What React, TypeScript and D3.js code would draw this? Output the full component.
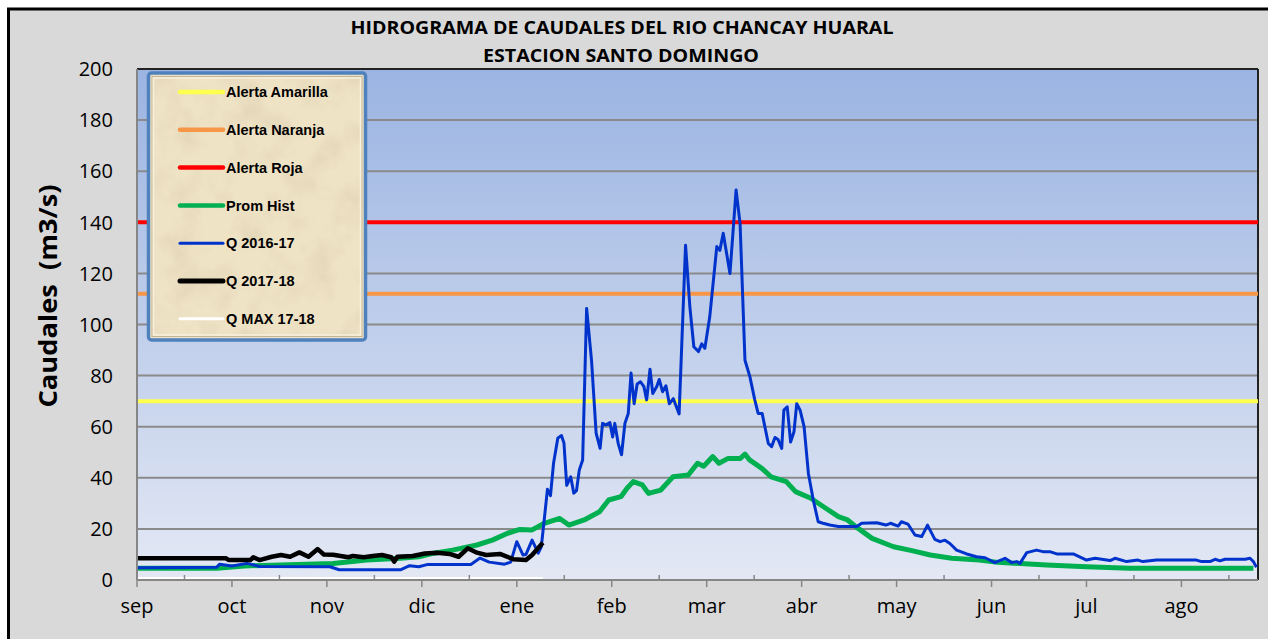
import React from 'react';
import * as d3 from 'd3';

// month labels on the category axis (one tick every 31 days)
const months = ['sep', 'oct', 'nov', 'dic', 'ene', 'feb', 'mar', 'abr', 'may', 'jun', 'jul', 'ago'];
const yTicks = [0, 20, 40, 60, 80, 100, 120, 140, 160, 180, 200];

// alert thresholds (m3/s)
const alertaAmarilla = 70;
const alertaNaranja = 112;
const alertaRoja = 140;

// [day since 1 sep, caudal]
const promHist: [number, number][] = [
  [0, 4.6], [26, 4.6], [35, 5.5], [64, 6.5], [75, 7.8], [86, 8.5], [92, 9.1], [97, 10.5],
  [103, 11.7], [111, 13.7], [116, 15.6], [121, 18.3], [125, 19.8], [129, 19.6], [133, 22.2],
  [138, 24.1], [141, 21.5], [146, 23.5], [151, 26.7], [154, 31.3], [158, 32.6], [160, 35.9],
  [162, 38.5], [165, 37.2], [167, 33.9], [171, 35.2], [175, 40.4], [180, 41.1], [183, 45.7],
  [185, 44.5], [188, 48.3], [190, 45.7], [193, 47.6], [197, 47.6], [198.5, 49.3], [200, 47],
  [204, 43.7], [207, 40.4], [212, 38.5], [215, 34.6], [220, 32], [225, 28], [229, 24.8],
  [232, 23.5], [235, 20.6], [240, 16.3], [247, 13], [253, 11.5], [259, 9.8], [266, 8.5],
  [275, 7.8], [281, 6.9], [297, 5.9], [310, 5.2], [324, 4.6], [364.5, 4.6],
];

const q1617: [number, number][] = [
  [0, 4.8], [26, 5], [27, 6.2], [31, 5.5], [36, 6.5], [40, 5.3], [63, 5.2], [66, 4], [86, 4],
  [89, 5.6], [92, 5.2], [95, 6.1], [109, 6.1], [112, 8.6], [115, 7], [120, 6.2], [122, 7],
  [124, 15], [126, 9.8], [127, 10], [129, 15.6], [131, 10.5], [132, 13], [133, 24], [134, 35.5],
  [135, 33], [136, 45.7], [137.4, 55.6], [138.6, 56.5], [139.4, 53.6], [140.3, 37], [141.6, 40.4],
  [142.6, 34], [143.5, 35], [144.4, 43], [145.5, 47], [146.8, 106.3], [148.4, 86], [149.9, 57.5],
  [151.2, 51.5], [152, 61.3], [153.1, 60.7], [154.4, 61.6], [155.3, 56], [156, 61.3],
  [157.1, 53.5], [158.2, 49], [159.3, 61.3], [160.4, 65.2], [161.3, 81], [162.3, 69],
  [163.3, 76.7], [164.4, 77.6], [165.5, 75.7], [166.4, 70.5], [167.5, 82.5], [168.4, 73],
  [169.7, 75.7], [170.5, 78.5], [171.6, 73.7], [172.7, 76], [173.8, 69], [175.1, 71], [177, 65],
  [179.1, 131], [180.5, 107], [181.8, 91.3], [183.3, 89.4], [184.4, 92.4], [185.4, 90.7],
  [187, 103], [189.3, 130.5], [190.3, 129], [191.4, 135.7], [193.6, 120], [195.6, 152.6],
  [196.9, 139.6], [198.5, 86], [200.1, 79.6], [201.7, 70.5], [202.8, 65.2], [204.1, 65.2],
  [206.1, 53.5], [207.2, 52.2], [208.3, 55.8], [209.3, 55], [210.5, 51.5], [211.2, 66.5],
  [212.3, 67.8], [213.4, 54], [214.5, 58], [215.4, 69], [216.5, 66.5], [217.8, 60],
  [219.2, 41.8], [220.8, 31.3], [222.4, 22.8], [224, 22.2], [226.2, 21.5], [229, 20.9],
  [235, 20.9], [236.6, 22.2], [241.5, 22.4], [244.5, 21.5], [246, 22.2], [248.5, 21.1],
  [249.6, 22.8], [251.7, 21.9], [254, 17.6], [256.2, 17], [258.1, 21.5], [260.5, 15.9],
  [262.2, 15], [263.8, 15.6], [265.4, 14.3], [267.6, 11.7], [270.9, 10.2], [274.1, 9.1],
  [276.9, 8.7], [280.1, 6.8], [283.4, 8.5], [285.6, 6.8], [287.2, 7.2], [288.3, 6.5],
  [290.5, 10.7], [293.7, 11.7], [295.8, 11.1], [298, 11.1], [300.3, 10.2], [305.7, 10.2],
  [310, 7.8], [312.8, 8.5], [317.7, 7.6], [319.3, 8.5], [323.1, 7.2], [326.8, 7.8], [328.4, 7.2],
  [332.9, 7.8], [345.9, 7.8], [347.6, 7.2], [350.3, 7.2], [352, 8.1], [353.6, 7.5], [355.2, 8.1],
  [361.8, 8.1], [363.4, 8.5], [364.5, 7.2], [365.5, 5],
];

const q1718: [number, number][] = [
  [0, 8.5], [29, 8.5], [30, 7.8], [37, 7.8], [38, 8.9], [40, 7.8], [44, 9.1], [47, 9.8],
  [50, 9.1], [53, 10.8], [56, 9.1], [59, 12.1], [61, 10], [64, 9.9], [69, 8.9], [70.5, 9.4],
  [74, 8.9], [77, 9.4], [80, 9.8], [83, 8.9], [84, 7.2], [85, 9.1], [90, 9.4], [94, 10.4],
  [98, 10.7], [102, 10.2], [105, 9.1], [108, 12.4], [111, 10.7], [114, 9.8], [118.5, 10.2],
  [123, 8.1], [127, 7.8], [129, 9.8], [132.5, 14.6],
];

const qMax1718: [number, number][] = [[0, 0.6], [132.5, 0.6]];

const W = 1268;
const H = 639;
const plot = { left: 137, right: 1258, top: 69, bottom: 580 };

const legendItems = [
  { label: 'Alerta Amarilla', color: '#ffff4d', width: 4.5 },
  { label: 'Alerta Naranja', color: '#f79646', width: 4.5 },
  { label: 'Alerta Roja', color: '#ff0000', width: 4.5 },
  { label: 'Prom Hist', color: '#00b050', width: 4.5 },
  { label: 'Q 2016-17', color: '#0033cc', width: 3 },
  { label: 'Q 2017-18', color: '#000000', width: 5 },
  { label: 'Q MAX 17-18', color: '#ffffff', width: 3 },
];

export default function App() {
  const x = d3.scaleLinear().domain([0, 366]).range([plot.left, plot.right]);
  const y = d3.scaleLinear().domain([0, 200]).range([plot.bottom, plot.top]);
  const line = d3
    .line<[number, number]>()
    .x(d => x(d[0]))
    .y(d => y(d[1]));

  const majorTicks = months.map((_, i) => i * 31);
  const minorTicks = months.map((_, i) => i * 31 + 15.5);
  const flat = (v: number): [number, number][] => [[0, v], [366, v]];

  const font = "'Open Sans', sans-serif";

  return (
    <>
      <style>{'body{margin:0;overflow:hidden;background:#fff}'}</style>
      <svg width={W} height={H} style={{ display: 'block' }}>
        <defs>
          <linearGradient id="plotBg" x1="0" y1="0" x2="0" y2="1">
            <stop offset="0%" stopColor="#9bb4e2" />
            <stop offset="100%" stopColor="#e3e8f4" />
          </linearGradient>
          <filter id="parch" x="0" y="0" width="100%" height="100%">
            <feTurbulence type="fractalNoise" baseFrequency="0.03" numOctaves="4" seed="7" />
            <feColorMatrix
              type="matrix"
              values="0 0 0 0 0.66  0 0 0 0 0.56  0 0 0 0 0.38  0.9 0 0 0 -0.38"
            />
            <feComposite in2="SourceGraphic" operator="in" />
          </filter>
        </defs>

        {/* chart area */}
        <rect x={8.5} y={9} width={1275} height={650} fill="#d9d9d9" stroke="#000" strokeWidth={3} />

        {/* title */}
        <g fontFamily={font} fontWeight="bold" fontSize={17} textAnchor="middle" fill="#000" style={{ whiteSpace: 'pre' }}>
          <text x={622} y={34} textLength={543} lengthAdjust="spacingAndGlyphs">
            {'HIDROGRAMA DE CAUDALES  DEL RIO CHANCAY HUARAL'}
          </text>
          <text x={621} y={62} textLength={276} lengthAdjust="spacingAndGlyphs">
            {'ESTACION SANTO DOMINGO'}
          </text>
        </g>

        {/* plot area */}
        <rect
          x={plot.left}
          y={plot.top}
          width={plot.right - plot.left}
          height={plot.bottom - plot.top}
          fill="url(#plotBg)"
        />
        {yTicks.slice(1, -1).map(t => (
          <line key={t} x1={plot.left} x2={plot.right} y1={y(t)} y2={y(t)} stroke="#8a8a8a" strokeWidth={2} />
        ))}
        <line x1={plot.left} x2={plot.right} y1={plot.top} y2={plot.top} stroke="#222" strokeWidth={2} />
        <line x1={plot.right} x2={plot.right} y1={plot.top} y2={plot.bottom} stroke="#222" strokeWidth={2} />

        {/* series */}
        <g fill="none" strokeLinejoin="round">
          <path d={line(flat(alertaAmarilla)) ?? ''} stroke="#ffff4d" strokeWidth={4} />
          <path d={line(flat(alertaNaranja)) ?? ''} stroke="#f79646" strokeWidth={4} />
          <path d={line(flat(alertaRoja)) ?? ''} stroke="#ff0000" strokeWidth={4} />
          <path d={line(promHist) ?? ''} stroke="#00b050" strokeWidth={5} />
          <path d={line(q1617) ?? ''} stroke="#0033cc" strokeWidth={3} />
          <path d={line(q1718) ?? ''} stroke="#000" strokeWidth={4.5} />
          <path d={line(qMax1718) ?? ''} stroke="#fff" strokeWidth={3} />
        </g>

        {/* axes */}
        <line x1={plot.left} x2={plot.left} y1={plot.top} y2={plot.bottom} stroke="#868686" strokeWidth={2} />
        <line x1={plot.left} x2={plot.right} y1={plot.bottom} y2={plot.bottom} stroke="#868686" strokeWidth={2} />
        {majorTicks.map(t => (
          <line key={t} x1={x(t)} x2={x(t)} y1={plot.bottom} y2={plot.bottom + 7} stroke="#868686" strokeWidth={1.5} />
        ))}
        {minorTicks.map(t => (
          <line key={t} x1={x(t)} x2={x(t)} y1={plot.bottom} y2={plot.bottom - 5} stroke="#868686" strokeWidth={1.5} />
        ))}
        <g fontFamily={font} fontSize={20} fill="#000">
          {yTicks.map(t => (
            <text key={t} x={113} y={y(t)} dy="0.36em" textAnchor="end">
              {t}
            </text>
          ))}
          {months.map((m, i) => (
            <text key={m} x={x(majorTicks[i])} y={613} textAnchor="middle">
              {m}
            </text>
          ))}
        </g>
        <text
          transform="translate(57,296) rotate(-90)"
          textAnchor="middle"
          fontFamily={font}
          fontWeight="bold"
          fontSize={25}
          textLength={223}
          lengthAdjust="spacingAndGlyphs"
          style={{ whiteSpace: 'pre' }}
        >
          {'Caudales  (m3/s)'}
        </text>

        {/* legend */}
        <g>
          <rect x={148.5} y={73} width={217} height={267} rx={3} fill="#efe3c6" stroke="#4f81bd" strokeWidth={3.5} />
          <rect x={151} y={75.5} width={212} height={262} fill="#efe3c6" filter="url(#parch)" />
          <rect x={152} y={76.5} width={210} height={260} fill="none" stroke="#c2b698" strokeWidth={1} />
          <rect x={153.5} y={78} width={207} height={257} fill="none" stroke="#f7f0dd" strokeWidth={1.5} />
          {legendItems.map((it, i) => {
            const ly = 92 + i * 37.8;
            return (
              <g key={it.label}>
                <line x1={180} x2={223} y1={ly} y2={ly} stroke={it.color} strokeWidth={it.width} strokeLinecap="round" />
                <text
                  x={226}
                  y={ly}
                  dy="0.36em"
                  fontFamily="'Liberation Sans', Arial, sans-serif"
                  fontWeight="bold"
                  fontSize={14.5}
                  fill="#000"
                >
                  {it.label}
                </text>
              </g>
            );
          })}
        </g>
      </svg>
    </>
  );
}
